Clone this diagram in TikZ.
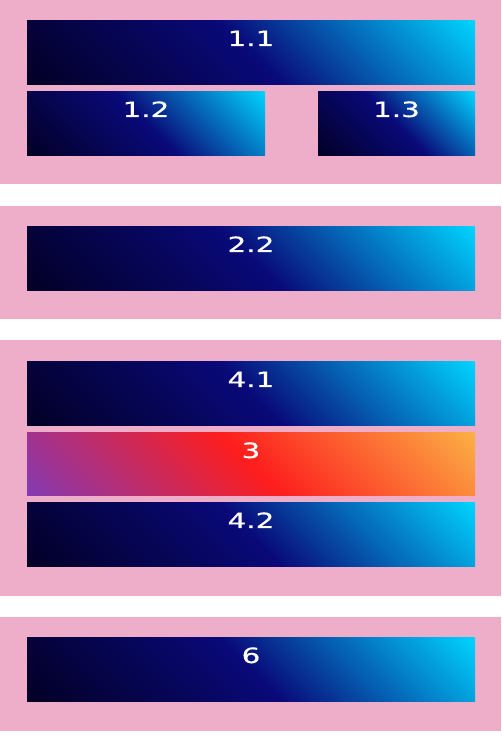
\documentclass[tikz,border=0pt]{standalone}
\usepackage{fontspec}
\newfontfamily\lblfont[FakeStretch=1.4,FakeBold=0.6]{DejaVu Sans}
\definecolor{bgpink}{RGB}{238,174,202}
\definecolor{blueA}{RGB}{2,0,36}
\definecolor{blueB}{RGB}{9,9,121}
\definecolor{blueC}{RGB}{0,212,255}
\definecolor{warmA}{RGB}{131,58,180}
\definecolor{warmB}{RGB}{253,29,29}
\definecolor{warmC}{RGB}{252,176,69}
\tikzset{
  band/.style={fill=bgpink, draw=none},
  boxnode/.style={draw=none, inner sep=0pt, outer sep=0pt, rectangle},
  lbl/.style={text=white, font=\lblfont\fontsize{21}{24}\selectfont, inner sep=0pt, anchor=base},
}
\newcommand{\gbox}[7]{%
  \pgfmathsetmacro{\bw}{#4-#2}%
  \pgfmathsetmacro{\bh}{#5-#3}%
  \pgfmathsetmacro{\cx}{(#2+#4)/2}%
  \pgfmathsetmacro{\cy}{752-(#3+#5)/2}%
  \pgfmathsetmacro{\gl}{(\bw+\bh)/sqrt(2)/2}%
  \begin{scope}
    \clip (#2,752-#5) rectangle (#4,752-#3);
    \begin{scope}[transform canvas={rotate around={45:(\cx,\cy)}}]
      \shade[left color=#7A, right color=#7C, middle color=#7B] (\cx-\gl,\cy-\gl-10) rectangle (\cx+\gl,\cy+\gl+10);
    \end{scope}
  \end{scope}
  \node[boxnode, minimum width=\bw pt, minimum height=\bh pt] (#1) at (\cx,\cy) {};
  \node[lbl] (#1-label) at ([yshift=-25pt]#1.north) {#6};
}
\begin{document}
\begin{tikzpicture}[x=1pt,y=1pt]
  \useasboundingbox (0,0) rectangle (501,752);
  \fill[white] (0,0) rectangle (501,752);
  \fill[band] (0,568) rectangle (501,752);
  \fill[band] (0,433) rectangle (501,546);
  \fill[band] (0,156) rectangle (501,412);
  \fill[band] (0,21) rectangle (501,135);
  \gbox{b11}{27}{21}{475}{85}{1.1}{blue}
  \gbox{b12}{27}{92}{265}{156}{1.2}{blue}
  \gbox{b13}{318}{92}{475}{156}{1.3}{blue}
  \gbox{b22}{27}{227}{475}{291}{2.2}{blue}
  \gbox{b41}{27}{362}{475}{426}{4.1}{blue}
  \gbox{b3}{27}{433}{475}{496}{3}{warm}
  \gbox{b42}{27}{503}{475}{567}{4.2}{blue}
  \gbox{b6}{27}{638}{475}{702}{6}{blue}
\end{tikzpicture}
\end{document}
